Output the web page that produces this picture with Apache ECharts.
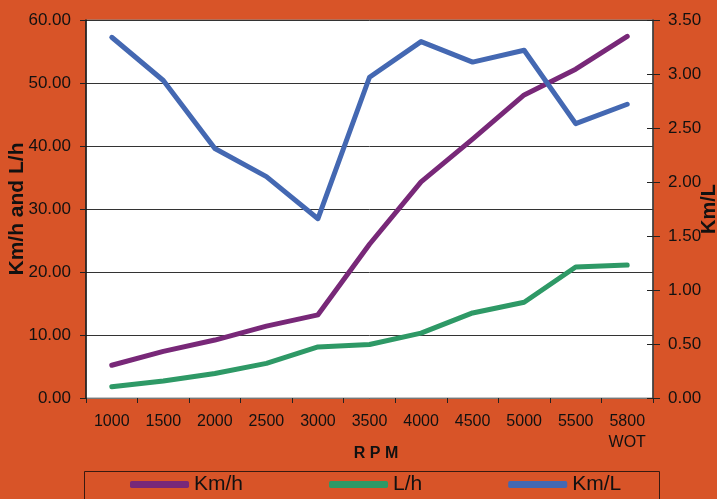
<!DOCTYPE html>
<html>
<head>
<meta charset="utf-8">
<script src="https://cdn.jsdelivr.net/npm/echarts@6/dist/echarts.min.js"></script>
<style>
html,body{margin:0;padding:0;background:#D85428;}
#chart{width:717px;height:499px;}
</style>
</head>
<body>
<div id="chart"></div>
<script>
const categories = ['1000','1500','2000','2500','3000','3500','4000','4500','5000','5500','5800\nWOT'];
const kmh = [5.2, 7.4, 9.2, 11.4, 13.2, 24.4, 34.3, 41.1, 48.1, 52.2, 57.4];
const lh  = [1.8, 2.7, 3.9, 5.5, 8.1, 8.5, 10.3, 13.5, 15.2, 20.8, 21.1];
const kml = [3.34, 2.94, 2.31, 2.05, 1.66, 2.97, 3.30, 3.11, 3.22, 2.54, 2.72];
const seriesNames = ['Km/h', 'L/h', 'Km/L'];
const colors = ['#782878', '#2E9966', '#4468B2'];

const FONT = "'Liberation Sans', Arial, sans-serif";
const chart = echarts.init(document.getElementById('chart'), null, {renderer: 'canvas'});
chart.setOption({
  backgroundColor: '#D85428',
  animation: false,
  textStyle: {fontFamily: FONT, color: '#111'},
  grid: {left: 86, right: 64, top: 20, bottom: 101, containLabel: false, outerBoundsMode: 'none',
         show: true, backgroundColor: '#ffffff', borderColor: '#8a8a8a', borderWidth: 1},
  legend: {
    left: 130, top: 474, padding: 0, itemGap: 86,
    itemWidth: 59, itemHeight: 7, icon: 'roundRect',
    textStyle: {fontFamily: FONT, fontSize: 21, color: '#111'},
    data: seriesNames
  },
  graphic: [{
    type: 'rect', left: 84, top: 471, silent: true,
    shape: {width: 575, height: 40},
    style: {fill: 'transparent', stroke: '#3a1a10', lineWidth: 1}
  }],
  xAxis: {
    type: 'category', data: categories, boundaryGap: true,
    name: 'R P M', nameLocation: 'middle', nameGap: 48, nameMoveOverlap: false,
    nameTextStyle: {fontFamily: FONT, fontWeight: 'bold', fontSize: 16, color: '#111', padding: [0, 0, 0, 13]},
    axisLine: {lineStyle: {color: '#777', width: 1}},
    axisTick: {show: true, inside: false, length: 5, alignWithLabel: false, lineStyle: {color: '#222'}},
    axisLabel: {fontFamily: FONT, fontSize: 16, color: '#111', margin: 13, lineHeight: 21, interval: 0}
  },
  yAxis: [{
    type: 'value', min: 0, max: 60, interval: 10, position: 'left',
    name: 'Km/h and L/h', nameLocation: 'middle', nameGap: 58, nameRotate: 90, nameMoveOverlap: false,
    nameTextStyle: {fontFamily: FONT, fontWeight: 'bold', fontSize: 21, color: '#111'},
    axisLine: {show: true, lineStyle: {color: '#111', width: 1.5}},
    axisTick: {show: true, length: 6, lineStyle: {color: '#222'}},
    axisLabel: {fontFamily: FONT, fontSize: 17, color: '#111', margin: 15, formatter: v => v.toFixed(2)},
    splitLine: {show: true, lineStyle: {color: '#333', width: 1}}
  }, {
    type: 'value', min: 0, max: 3.5, interval: 0.5, position: 'right',
    name: 'Km/L', nameLocation: 'middle', nameGap: 46, nameRotate: 90, nameMoveOverlap: false,
    nameTextStyle: {fontFamily: FONT, fontWeight: 'bold', fontSize: 20, color: '#111'},
    axisLine: {show: true, lineStyle: {color: '#333', width: 1.5}},
    axisTick: {show: true, length: 7, lineStyle: {color: '#222'}},
    axisLabel: {fontFamily: FONT, fontSize: 17, color: '#111', margin: 15, formatter: v => v.toFixed(2)},
    splitLine: {show: false}
  }, {
    type: 'value', min: 0, max: 3.5, interval: 0.5, position: 'right',
    axisLine: {show: false},
    axisTick: {show: true, inside: true, length: 6, lineStyle: {color: '#222'}},
    axisLabel: {show: false},
    splitLine: {show: false}
  }],
  series: [
    {name: seriesNames[0], type: 'line', yAxisIndex: 0, data: kmh, symbol: 'none', color: colors[0],
     lineStyle: {width: 5, color: colors[0], cap: 'round', join: 'round'}},
    {name: seriesNames[1], type: 'line', yAxisIndex: 0, data: lh, symbol: 'none', color: colors[1],
     lineStyle: {width: 5, color: colors[1], cap: 'round', join: 'round'}},
    {name: seriesNames[2], type: 'line', yAxisIndex: 1, data: kml, symbol: 'none', color: colors[2],
     lineStyle: {width: 5, color: colors[2], cap: 'round', join: 'round'}}
  ]
});
</script>
</body>
</html>
